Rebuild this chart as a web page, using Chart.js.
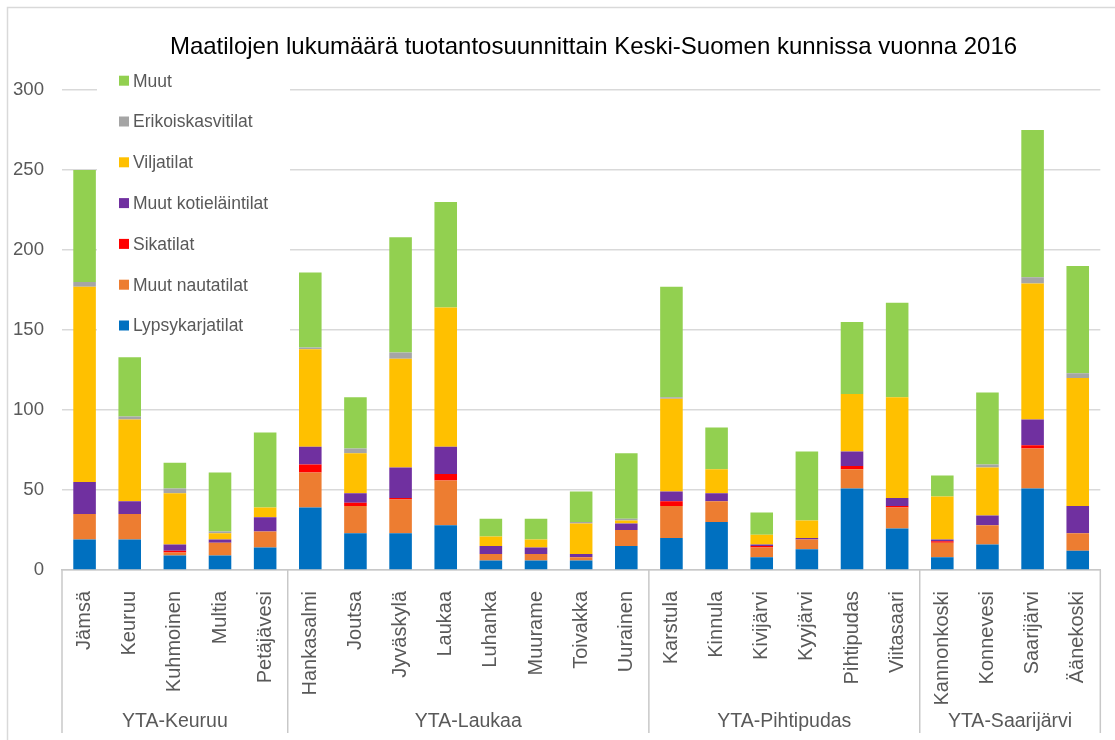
<!DOCTYPE html>
<html lang="fi">
<head>
<meta charset="utf-8">
<title>Maatilojen lukumäärä</title>
<script src="https://cdn.jsdelivr.net/npm/chart.js@4/dist/chart.umd.min.js"></script>
<style>
  html, body { margin: 0; padding: 0; background: #fff; }
  #wrap { position: relative; width: 1115px; height: 740px; }
</style>
</head>
<body>
<div id="wrap"><canvas id="maatilaChart"></canvas></div>
<script>
// Kunnat (kategoriat) ja YTA-alueet
const kunnat = ["Jämsä", "Keuruu", "Kuhmoinen", "Multia", "Petäjävesi",
  "Hankasalmi", "Joutsa", "Jyväskylä", "Laukaa", "Luhanka", "Muurame", "Toivakka", "Uurainen",
  "Karstula", "Kinnula", "Kivijärvi", "Kyyjärvi", "Pihtipudas", "Viitasaari",
  "Kannonkoski", "Konnevesi", "Saarijärvi", "Äänekoski"];
const alueet = ["YTA-Keuruu", "YTA-Laukaa", "YTA-Pihtipudas", "YTA-Saarijärvi"];
const alueKoot = [5, 8, 6, 4];

// Tuotantosuunnat (alhaalta ylös)
const lypsykarjatilat =   [19, 19, 9, 9, 14,  39, 23, 23, 28, 6, 6, 6, 15,  20, 30, 8, 13, 51, 26,  8, 16, 51, 12];
const muutNautatilat =    [16, 16, 2, 8, 10,  22, 17, 21, 28, 4, 4, 2, 10,  20, 13, 6, 6, 12, 13,   9, 12, 25, 11];
const sikatilat =         [0, 0, 1, 0, 0,     5, 2, 1, 4, 0, 0, 0, 0,       3, 0, 1, 0, 2, 1,       1, 0, 2, 0];
const muutKotielaintilat =[20, 8, 4, 2, 9,    11, 6, 19, 17, 5, 4, 2, 4,    6, 5, 1, 1, 9, 5,       1, 6, 16, 17];
const viljatilat =        [122, 51, 32, 4, 6, 61, 25, 68, 87, 6, 5, 19, 2,  58, 15, 6, 11, 36, 63,  27, 30, 85, 80];
const erikoiskasvitilat = [3, 2, 3, 1, 0,     1, 3, 4, 0, 0, 0, 1, 1,       1, 0, 0, 0, 0, 0,       0, 2, 4, 3];
const muut =              [70, 37, 16, 37, 47, 47, 32, 72, 66, 11, 13, 19, 41, 69, 26, 14, 43, 45, 59, 13, 45, 92, 67];

const yTicks = [0, 50, 100, 150, 200, 250, 300];

const otsikko = "Maatilojen lukumäärä tuotantosuunnittain Keski-Suomen kunnissa vuonna 2016";
const tekstiVari = "#595959";
const fontti = "'Liberation Sans', Arial, sans-serif";

// Otsikko, selite, ryhmät ja kehys piirretään omalla pluginilla
const omaPiirto = {
  id: "omaPiirto",
  beforeDatasetsDraw(chart) {
    const ctx = chart.ctx;
    ctx.save();
    // selitteen valkoinen tausta peittää ruudukon
    ctx.fillStyle = "#fff";
    ctx.fillRect(97, 60, 193, 285);
    ctx.font = "17.5px " + fontti;
    ctx.textBaseline = "middle";
    ctx.textAlign = "left";
    const sets = chart.data.datasets.slice().reverse();
    sets.forEach((ds, i) => {
      const y = 80.7 + i * 40.8;
      ctx.fillStyle = ds.backgroundColor;
      ctx.fillRect(119, y - 5, 10, 10);
      ctx.fillStyle = tekstiVari;
      ctx.fillText(ds.label, 133, y + 1);
    });
    ctx.restore();
  },
  afterDraw(chart) {
    const ctx = chart.ctx;
    const x = chart.scales.x;
    const bottom = chart.chartArea.bottom;
    ctx.save();
    // otsikko
    ctx.fillStyle = "#000";
    ctx.font = "24px " + fontti;
    ctx.textAlign = "center";
    ctx.textBaseline = "middle";
    ctx.fillText(otsikko, 593.5, 47);

    // ryhmien erotinviivat ja nimet
    ctx.strokeStyle = "#c8c8c8";
    ctx.lineWidth = 1.5;
    let start = 0;
    const rajat = [0];
    alueKoot.forEach(k => { start += k; rajat.push(start); });
    rajat.forEach(r => {
      const px = x.getPixelForValue(r - 0.5);
      ctx.beginPath();
      ctx.moveTo(px, bottom);
      ctx.lineTo(px, 733);
      ctx.stroke();
    });
    ctx.fillStyle = tekstiVari;
    ctx.font = "19.5px " + fontti;
    alueet.forEach((nimi, i) => {
      const a = x.getPixelForValue(rajat[i] - 0.5);
      const b = x.getPixelForValue(rajat[i + 1] - 0.5);
      ctx.fillText(nimi, (a + b) / 2, 722);
    });

    // kaavion kehys
    ctx.strokeStyle = "#d9d9d9";
    ctx.lineWidth = 1.5;
    ctx.strokeRect(7.5, 7.5, 1200, 800);
    ctx.restore();
  }
};

const ctx = document.getElementById("maatilaChart").getContext("2d");
new Chart(ctx, {
  type: "bar",
  data: {
    labels: kunnat,
    datasets: [
      { label: "Lypsykarjatilat", data: lypsykarjatilat, backgroundColor: "#0070C0" },
      { label: "Muut nautatilat", data: muutNautatilat, backgroundColor: "#ED7D31" },
      { label: "Sikatilat", data: sikatilat, backgroundColor: "#FF0000" },
      { label: "Muut kotieläintilat", data: muutKotielaintilat, backgroundColor: "#7030A0" },
      { label: "Viljatilat", data: viljatilat, backgroundColor: "#FFC000" },
      { label: "Erikoiskasvitilat", data: erikoiskasvitilat, backgroundColor: "#A5A5A5" },
      { label: "Muut", data: muut, backgroundColor: "#92D050" }
    ]
  },
  options: {
    responsive: true,
    maintainAspectRatio: false,
    animation: false,
    layout: { padding: { top: 90, right: 12, left: 0, bottom: 0 } },
    datasets: { bar: { barPercentage: 0.5, categoryPercentage: 1 } },
    plugins: {
      legend: { display: false },
      title: { display: false },
      tooltip: { enabled: false }
    },
    scales: {
      x: {
        stacked: true,
        grid: { display: false },
        border: { display: true, color: "#c8c8c8", width: 1.5 },
        ticks: {
          autoSkip: false,
          minRotation: 90,
          maxRotation: 90,
          padding: 13,
          color: tekstiVari,
          font: { family: fontti, size: 20 }
        },
        afterFit(scale) { scale.height = 170; }
      },
      y: {
        stacked: true,
        min: 0,
        max: 300,
        afterBuildTicks(scale) { scale.ticks = yTicks.map(v => ({ value: v })); },
        grid: { color: "#d9d9d9", lineWidth: 1.5, drawTicks: false },
        border: { display: false },
        ticks: {
          padding: 18,
          color: tekstiVari,
          font: { family: fontti, size: 18.6 }
        },
        afterFit(scale) { scale.width = 62; }
      }
    }
  },
  plugins: [omaPiirto]
});
</script>
</body>
</html>
